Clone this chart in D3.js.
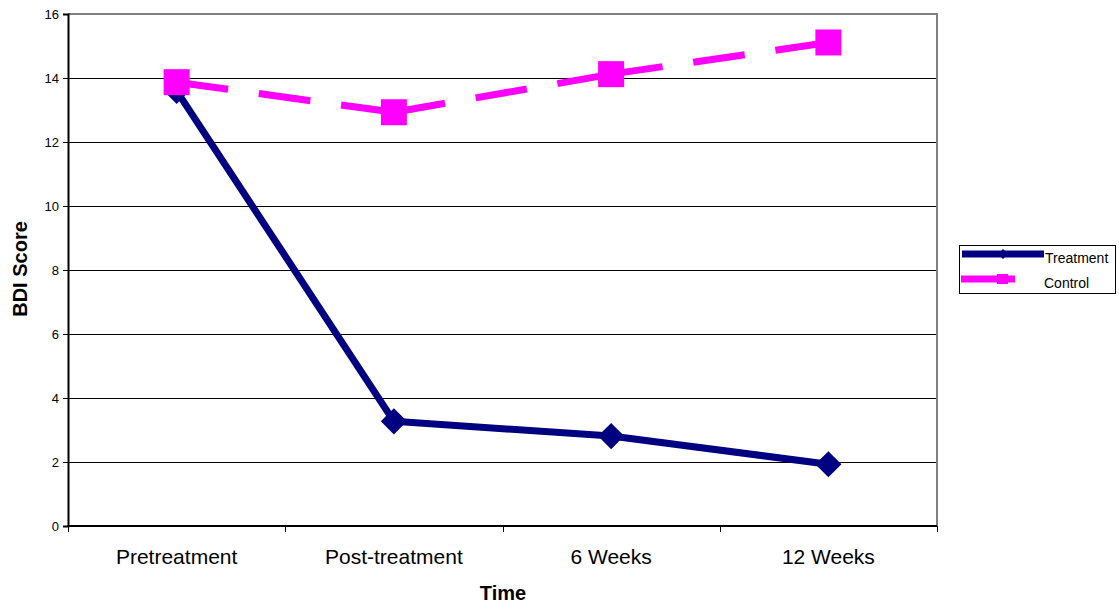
<!DOCTYPE html>
<html><head><meta charset="utf-8">
<script src="https://cdn.jsdelivr.net/npm/d3@7"></script>
<style>body{margin:0;background:#fff}svg{display:block}text{font-family:"Liberation Sans",Arial,sans-serif}</style>
</head><body>
<svg id="c" width="1119" height="605"></svg>
<script>
const categories = ["Pretreatment","Post-treatment","6 Weeks","12 Weeks"];
const treatment = [13.6, 3.27, 2.81, 1.93];
const control = [13.87, 12.93, 14.12, 15.11];
const yTicks = [0,2,4,6,8,10,12,14,16];
const seriesNames = ["Treatment","Control"];

const svg = d3.select("#c");
const L=68, R=937, T=14, B=526;
const x = d3.scaleBand().domain(categories).range([L,R]);
const y = d3.scaleLinear().domain([0,16]).range([B,T]);
const cx = c => x(c)+x.bandwidth()/2;

// gridlines (crisp)
svg.append("g").selectAll("line").data(yTicks.filter(v=>v>0 && v<16)).join("line")
  .attr("x1",L).attr("x2",R).attr("y1",d=>y(d)+0.5).attr("y2",d=>y(d)+0.5)
  .attr("stroke","#000").attr("stroke-width",1);
// top & right border gray
svg.append("line").attr("x1",L).attr("x2",R+1).attr("y1",y(16)).attr("y2",y(16)).attr("stroke","#808080").attr("stroke-width",2);
svg.append("line").attr("x1",R).attr("x2",R).attr("y1",T).attr("y2",B).attr("stroke","#808080").attr("stroke-width",2);

// y axis
const ya = svg.append("g").attr("transform",`translate(${L},0)`)
  .call(d3.axisLeft(y).tickValues(yTicks).tickSize(5).tickPadding(4));
ya.select(".domain").attr("stroke","#000").attr("stroke-width",2);
ya.selectAll(".tick line").attr("stroke","#000");
ya.selectAll("text").attr("font-size",13).attr("fill","#000").attr("font-family","Liberation Sans, Arial, sans-serif");

// x axis
const xa = svg.append("g").attr("transform",`translate(0,${B})`)
  .call(d3.axisBottom(x).tickSize(0).tickPadding(23));
xa.select(".domain").remove();
xa.selectAll("text").attr("font-size",21).attr("fill","#000").attr("font-family","Liberation Sans, Arial, sans-serif");
svg.append("line").attr("x1",L-1).attr("x2",R).attr("y1",B).attr("y2",B).attr("stroke","#000").attr("stroke-width",2);
const bounds = categories.map(c=>x(c)).concat([R]);
svg.append("g").selectAll("line").data(bounds).join("line")
  .attr("x1",d=>Math.round(d)+0.5).attr("x2",d=>Math.round(d)+0.5).attr("y1",B).attr("y2",B+6).attr("stroke","#000").attr("stroke-width",1);

// axis titles
svg.append("text").attr("x",503).attr("y",600).attr("text-anchor","middle").attr("font-size",20).attr("font-weight","bold").text("Time");
svg.append("text").attr("transform","translate(27,269) rotate(-90)").attr("text-anchor","middle").attr("font-size",20).attr("font-weight","bold").text("BDI Score");

const navy="#000080", mag="#ff00ff";
// control dashed line per segment
const cPts = categories.map((c,i)=>[cx(c), y(control[i])]);
for(let i=0;i<cPts.length-1;i++){
  svg.append("line").attr("x1",cPts[i][0]).attr("y1",cPts[i][1]).attr("x2",cPts[i+1][0]).attr("y2",cPts[i+1][1])
    .attr("stroke",mag).attr("stroke-width",7).attr("stroke-dasharray","52,31");
}
// treatment line
const line = d3.line().x(d=>d[0]).y(d=>d[1]);
const tPts = categories.map((c,i)=>[cx(c), y(treatment[i])]);
svg.append("path").attr("d",line(tPts)).attr("fill","none").attr("stroke",navy).attr("stroke-width",7).attr("stroke-linejoin","round");
// treatment diamonds
svg.append("g").selectAll("path").data(tPts).join("path")
  .attr("transform",d=>`translate(${d[0]},${d[1]}) rotate(45)`)
  .attr("d",d3.symbol().type(d3.symbolSquare).size(18.5*18.5)).attr("fill",navy);
// control squares
svg.append("g").selectAll("rect").data(cPts).join("rect")
  .attr("x",d=>d[0]-13).attr("y",d=>d[1]-13).attr("width",26).attr("height",26).attr("fill",mag);

// legend
const lg = svg.append("g");
lg.append("rect").attr("x",959.5).attr("y",245.5).attr("width",156).attr("height",48).attr("fill","#fff").attr("stroke","#000").attr("stroke-width",1);
lg.append("line").attr("x1",962).attr("x2",1044).attr("y1",254).attr("y2",254).attr("stroke",navy).attr("stroke-width",7);
lg.append("path").attr("transform","translate(1003,254) rotate(45)").attr("d",d3.symbol().type(d3.symbolSquare).size(7*7)).attr("fill",navy);
lg.append("line").attr("x1",961).attr("x2",1015).attr("y1",279).attr("y2",279).attr("stroke",mag).attr("stroke-width",7);
lg.append("rect").attr("x",997).attr("y",274).attr("width",11).attr("height",10).attr("fill",mag);
lg.append("text").attr("x",1045).attr("y",263).attr("font-size",14).text(seriesNames[0]);
lg.append("text").attr("x",1044).attr("y",288).attr("font-size",14).text(seriesNames[1]);
</script>
</body></html>
